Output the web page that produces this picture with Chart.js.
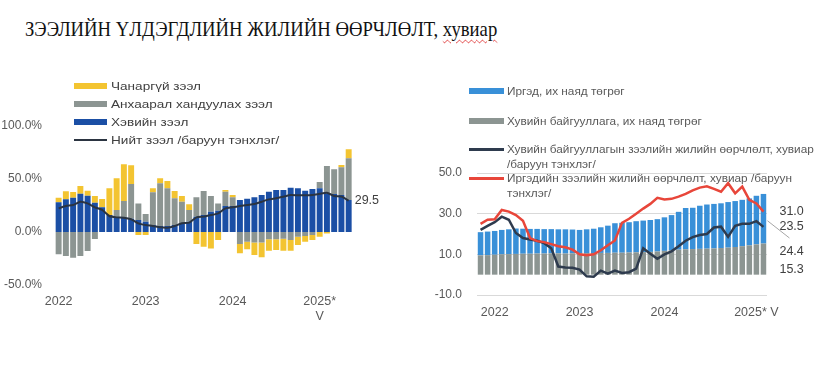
<!DOCTYPE html>
<html>
<head>
<meta charset="utf-8">
<script src="https://cdn.jsdelivr.net/npm/chart.js@4.4.1/dist/chart.umd.min.js"></script>
<style>
  html, body { margin: 0; padding: 0; background: #fff; }
  body { width: 825px; height: 366px; position: relative; overflow: hidden; font-family: "Liberation Sans", Arial, sans-serif; }
  #title { position: absolute; left: 25px; top: 18px; font-family: "Liberation Serif", "Times New Roman", serif; font-size: 22px; line-height: 22px; color: #111; white-space: nowrap; transform: scaleX(0.85); transform-origin: 0 0; }
  #title .u { text-decoration: underline wavy #e03a3a; text-decoration-thickness: 1px; text-underline-offset: 3px; }
  canvas { position: absolute; top: 0; }
  #leftChart { left: 0; }
  #rightChart { left: 420px; }
  .row { position: absolute; height: 15px; line-height: 15px; font-size: 11.5px; color: #404040; white-space: nowrap; }
  .row.wide { transform: scaleX(1.18); transform-origin: 0 0; }
  .row.two { height: 30px; }
  .rrow { font-size: 11.8px; color: #595959; }
  .sw { position: absolute; }
</style>
</head>
<body>
<div id="title">ЗЭЭЛИЙН ҮЛДЭГДЛИЙН ЖИЛИЙН ӨӨРЧЛӨЛТ, <span class="u">хувиар</span></div>

<canvas id="leftChart" width="380" height="366"></canvas>
<canvas id="rightChart" width="405" height="366"></canvas>

<!-- left legend -->
<div class="sw" style="left:74px;top:83px;width:33px;height:6px;background:#f3c431"></div>
<div class="row wide" style="left:111px;top:79px">Чанаргүй зээл</div>
<div class="sw" style="left:74px;top:101px;width:33px;height:6px;background:#8c9592"></div>
<div class="row wide" style="left:111px;top:97px">Анхаарал хандуулах зээл</div>
<div class="sw" style="left:74px;top:119px;width:33px;height:6px;background:#1b4fa5"></div>
<div class="row wide" style="left:111px;top:115px">Хэвийн зээл</div>
<div class="sw" style="left:74px;top:139px;width:33px;height:2px;background:#2b3441"></div>
<div class="row wide" style="left:111px;top:133px">Нийт зээл /баруун тэнхлэг/</div>

<!-- right legend -->
<div class="sw" style="left:469px;top:88px;width:35px;height:6px;background:#3990d8"></div>
<div class="row rrow" style="left:507px;top:84px">Иргэд, их наяд төгрөг</div>
<div class="sw" style="left:469px;top:118px;width:35px;height:6px;background:#8c9592"></div>
<div class="row rrow" style="left:507px;top:114px">Хувийн байгууллага, их наяд төгрөг</div>
<div class="sw" style="left:469px;top:148px;width:35px;height:3px;background:#2e3b4e"></div>
<div class="row two rrow" style="left:507px;top:142px">Хувийн байгууллагын зээлийн жилийн өөрчлөлт, хувиар<br>/баруун тэнхлэг/</div>
<div class="sw" style="left:469px;top:177px;width:35px;height:3px;background:#e8463a"></div>
<div class="row two rrow" style="left:507px;top:171px">Иргэдийн зээлийн жилийн өөрчлөлт, хувиар /баруун<br>тэнхлэг/</div>

<script>
// months Jan 2022 - May 2025
const months = [
  '2022-01','2022-02','2022-03','2022-04','2022-05','2022-06','2022-07','2022-08','2022-09','2022-10','2022-11','2022-12',
  '2023-01','2023-02','2023-03','2023-04','2023-05','2023-06','2023-07','2023-08','2023-09','2023-10','2023-11','2023-12',
  '2024-01','2024-02','2024-03','2024-04','2024-05','2024-06','2024-07','2024-08','2024-09','2024-10','2024-11','2024-12',
  '2025-01','2025-02','2025-03','2025-04','2025-05'
];

// left chart: contributions, %
const normalLoans = [28.0, 30.8, 32.4, 36.2, 34.3, 27.7, 23.3, 16.0, 13.8, 13.5, 12.6, 11.3, 9.7, 6.6, 5.7, 5.7, 6.6, 8.2, 9.7, 14.5, 16.0, 19.2, 20.1, 24.5, 24.5, 30.2, 31.4, 32.7, 34.9, 38.0, 39.6, 39.6, 41.8, 41.2, 39.0, 40.6, 41.2, 36.5, 35.8, 34.9, 30.2];
const watchLoans = [-21.0, -22.6, -24.2, -22.6, -17.9, -6.6, 0, 0, 7.0, 15.7, 32.7, 15.7, 7.3, 30.8, 40.2, 35.5, 25.2, 20.4, 11.1, 18.2, 22.7, 14.8, 6.9, 13.5, 8.2, -11.3, -9.1, -10.0, -10.0, -6.9, -6.9, -6.3, -7.5, -4.4, -3.8, -2.8, 6.0, 25.8, 23.3, 26.1, 39.3];
const nplLoans = [4.4, 7.6, 5.3, 7.2, 4.7, 6.3, 7.8, 25.2, 29.8, 34.8, 17.7, -2.8, -2.8, 3.8, 4.7, 6.9, 6.9, 5.4, 5.3, -11.3, -14.0, -15.5, -7.5, 1.6, 2.2, -8.8, -7.2, -11.6, -13.8, -10.7, -10.0, -11.3, -10.1, -7.9, -5.3, -4.7, -4.4, -1.3, 0, 2.2, 8.5];
const totalLoans = [22.3, 24.5, 25.5, 28.6, 27.0, 23.3, 20.8, 15.1, 13.8, 13.5, 12.0, 8.2, 6.6, 5.7, 4.4, 4.1, 5.7, 8.2, 8.8, 13.8, 14.5, 16.0, 17.6, 22.3, 23.3, 24.5, 25.5, 26.4, 28.6, 30.8, 31.8, 33.3, 34.9, 34.6, 34.6, 34.9, 36.0, 37.0, 34.0, 33.5, 29.5];
const leftTickIdx = [0, 12, 24, 36];
const leftTickText = ['2022', '2023', '2024', ['2025*', 'V']];

// right chart: balances (trn MNT) and growth (%)
const corpBalance = [9.5, 9.6, 9.8, 10.0, 10.1, 10.2, 10.3, 10.3, 10.4, 10.4, 10.5, 10.5, 10.4, 10.5, 10.5, 10.6, 10.6, 10.7, 10.7, 10.8, 10.8, 10.9, 11.0, 11.1, 11.2, 11.4, 11.7, 12.0, 12.3, 12.5, 12.6, 12.7, 12.8, 12.9, 13.1, 13.3, 13.6, 14.0, 14.4, 14.9, 15.3];
const hhBalance = [11.4, 11.6, 11.7, 12.0, 12.2, 12.5, 12.3, 12.2, 12.1, 12.0, 11.9, 11.8, 11.9, 11.7, 11.5, 11.7, 12.0, 12.6, 13.4, 14.5, 14.7, 14.9, 15.3, 15.5, 15.7, 15.9, 16.5, 17.3, 18.6, 20.3, 20.3, 21.2, 21.7, 21.9, 22.0, 22.4, 22.6, 22.8, 23.1, 23.9, 24.4];
const corpGrowth = [22.0, 24.0, 25.8, 28.5, 27.0, 20.5, 18.0, 17.3, 16.7, 15.5, 13.0, 4.0, 3.5, 3.4, 2.5, -0.8, -1.0, 2.0, 0.5, 2.0, 0.8, 1.2, 3.0, 13.0, 10.3, 7.8, 10.0, 11.5, 14.0, 16.7, 18.5, 19.5, 20.0, 23.2, 23.6, 18.6, 24.0, 25.0, 25.0, 26.3, 23.5];
const hhGrowth = [25.0, 27.0, 27.2, 31.8, 31.0, 29.3, 26.5, 18.0, 16.5, 16.0, 15.0, 14.0, 13.5, 12.3, 10.0, 9.5, 10.0, 12.0, 14.5, 16.8, 25.5, 27.5, 30.0, 32.5, 34.8, 37.8, 37.0, 37.3, 38.4, 39.7, 41.5, 42.8, 43.5, 42.2, 40.8, 45.0, 40.0, 43.3, 36.8, 35.0, 31.0];
const rightTickIdx = [2, 14, 26, 39];
const rightTickText = ['2022', '2023', '2024', '2025* V'];

const tickColor = '#595959';
const tickFont = { family: "'Liberation Sans', Arial, sans-serif", size: 12 };

function yearTick(idxList, textList) {
  return function (value, index) {
    const k = idxList.indexOf(index);
    return k >= 0 ? textList[k] : '';
  };
}

// value labels at the end of the lines
const leftEndLabel = {
  id: 'leftEndLabel',
  afterDatasetsDraw(chart) {
    const ctx = chart.ctx;
    const pts = chart.getDatasetMeta(0).data;
    const last = pts[pts.length - 1];
    ctx.save();
    ctx.font = "12.5px 'Liberation Sans', Arial, sans-serif";
    ctx.fillStyle = '#404040';
    ctx.textBaseline = 'middle';
    ctx.fillText(totalLoans[totalLoans.length - 1].toFixed(1), last.x + 6, last.y);
    ctx.restore();
  }
};

const rightEndLabels = {
  id: 'rightEndLabels',
  afterDatasetsDraw(chart) {
    const ctx = chart.ctx;
    const n = months.length - 1;
    const red = chart.getDatasetMeta(0).data[n];
    const dark = chart.getDatasetMeta(1).data[n];
    const hhBar = chart.getDatasetMeta(3).data[n];
    const bottom = chart.chartArea.bottom;
    const x = red.x + 16;
    ctx.save();
    // leader line from the bar to its label
    ctx.strokeStyle = '#a6a6a6';
    ctx.lineWidth = 1;
    ctx.beginPath();
    ctx.moveTo(hhBar.x + 4, (hhBar.y + hhBar.base) / 2 + 2);
    ctx.lineTo(x + 10, bottom - 57);
    ctx.stroke();
    ctx.font = "12.5px 'Liberation Sans', Arial, sans-serif";
    ctx.fillStyle = '#404040';
    ctx.textBaseline = 'middle';
    ctx.fillText(hhGrowth[n].toFixed(1), x, red.y);
    ctx.fillText(corpGrowth[n].toFixed(1), x, dark.y);
    ctx.fillText(hhBalance[n].toFixed(1), x, bottom - 43);
    ctx.fillText(corpBalance[n].toFixed(1), x, bottom - 25);
    ctx.restore();
  }
};

// LEFT CHART
new Chart(document.getElementById('leftChart'), {
  type: 'bar',
  data: {
    labels: months,
    datasets: [
      { type: 'line', label: 'Нийт зээл /баруун тэнхлэг/', data: totalLoans, stack: 'line',
        borderColor: '#2b3441', borderWidth: 2, pointRadius: 0, tension: 0.2, fill: false },
      { label: 'Хэвийн зээл', data: normalLoans, backgroundColor: '#1b4fa5', stack: 'bars' },
      { label: 'Анхаарал хандуулах зээл', data: watchLoans, backgroundColor: '#8c9592', stack: 'bars' },
      { label: 'Чанаргүй зээл', data: nplLoans, backgroundColor: '#f3c431', stack: 'bars' }
    ]
  },
  options: {
    responsive: false,
    animation: false,
    devicePixelRatio: 1,
    datasets: { bar: { barPercentage: 0.82, categoryPercentage: 1 } },
    layout: { padding: { top: 126, right: 27.7, bottom: 0, left: 0 } },
    plugins: { legend: { display: false }, tooltip: { enabled: false } },
    scales: {
      x: {
        stacked: true,
        grid: { display: false, drawTicks: false },
        border: { display: false },
        ticks: { autoSkip: false, maxRotation: 0, padding: 9.5, color: tickColor, font: { ...tickFont, size: 12.5 },
                 callback: yearTick(leftTickIdx, leftTickText) },
        afterFit(scale) { scale.height = 81; }
      },
      y: {
        stacked: true,
        min: -50, max: 100,
        grid: { display: false, drawTicks: false },
        border: { display: false },
        ticks: { stepSize: 50, padding: 13, color: tickColor, font: tickFont,
                 callback: v => v.toFixed(1) + '%' },
        afterFit(scale) { scale.width = 55; }
      }
    }
  },
  plugins: [leftEndLabel]
});

// RIGHT CHART
new Chart(document.getElementById('rightChart'), {
  type: 'bar',
  data: {
    labels: months,
    datasets: [
      { type: 'line', label: 'Иргэдийн зээлийн жилийн өөрчлөлт, хувиар /баруун тэнхлэг/', data: hhGrowth, stack: 'l1',
        borderColor: '#e8463a', borderWidth: 2.5, pointRadius: 0, tension: 0, fill: false },
      { type: 'line', label: 'Хувийн байгууллагын зээлийн жилийн өөрчлөлт, хувиар /баруун тэнхлэг/', data: corpGrowth, stack: 'l2',
        borderColor: '#2e3b4e', borderWidth: 2.5, pointRadius: 0, tension: 0, fill: false },
      { label: 'Хувийн байгууллага, их наяд төгрөг', data: corpBalance, backgroundColor: '#8c9592', stack: 'bars' },
      { label: 'Иргэд, их наяд төгрөг', data: hhBalance, backgroundColor: '#3990d8', stack: 'bars' }
    ]
  },
  options: {
    responsive: false,
    animation: false,
    devicePixelRatio: 1,
    datasets: { bar: { barPercentage: 0.78, categoryPercentage: 1 } },
    layout: { padding: { top: 173, right: 58, bottom: 0, left: 0 } },
    plugins: { legend: { display: false }, tooltip: { enabled: false } },
    scales: {
      x: {
        stacked: true,
        grid: { display: false, drawTicks: false },
        border: { display: false },
        ticks: { autoSkip: false, maxRotation: 0, padding: 10.5, color: tickColor, font: { ...tickFont, size: 12.5 },
                 callback: yearTick(rightTickIdx, rightTickText) },
        afterFit(scale) { scale.height = 71; }
      },
      y: {
        stacked: true,
        min: -10, max: 50,
        grid: { color: '#d9d9d9', lineWidth: 1, drawTicks: false },
        border: { display: false },
        ticks: { stepSize: 20, padding: 15, color: tickColor, font: tickFont,
                 callback: v => v.toFixed(1) },
        afterFit(scale) { scale.width = 57; }
      }
    }
  },
  plugins: [rightEndLabels]
});
</script>
</body>
</html>
